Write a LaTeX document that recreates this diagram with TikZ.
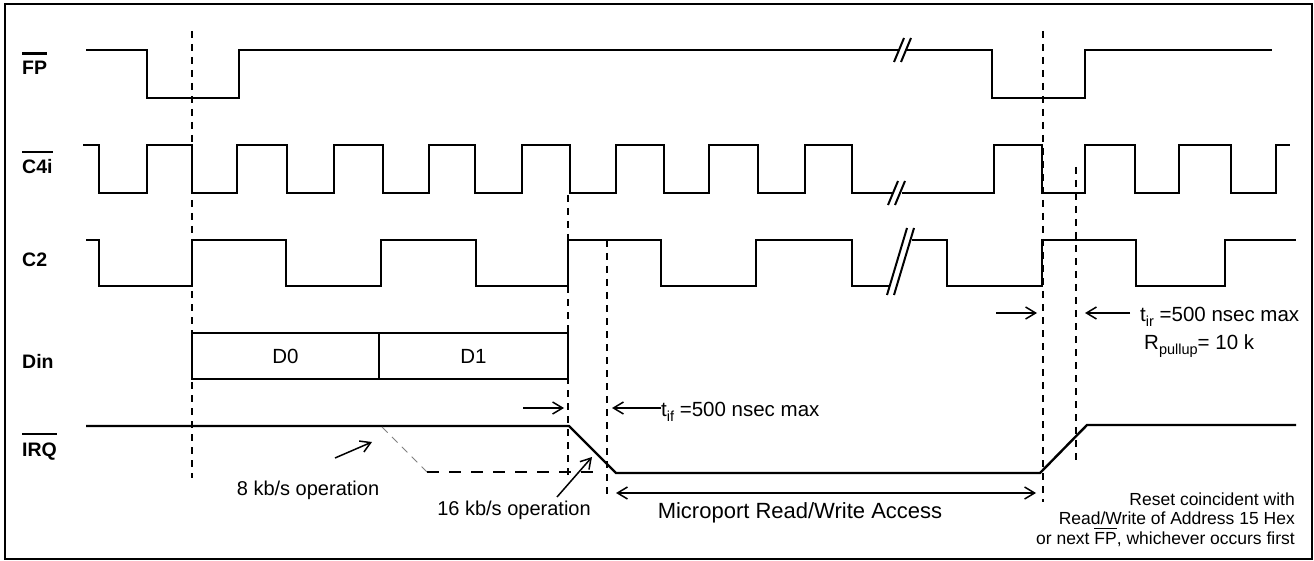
\documentclass[tikz,border=0pt]{standalone}
\usepackage{fontspec}
\setmainfont{Liberation Sans}
\usetikzlibrary{arrows.meta}
\newcommand\ovbar[3]{\setbox0\hbox{#3}\leavevmode\vbox{\hrule height #1 width \wd0 \vskip #2\box0}}
\newcommand\lowtxt[1]{\raisebox{-5pt}{\fontsize{14.5}{14.5}\selectfont #1}}
\begin{document}
\begin{tikzpicture}[x=1pt,y=-1pt,
  sig/.style={line width=2.6pt, line join=miter},
  guide/.style={line width=1.8pt, dash pattern=on 7pt off 6pt},
  brk/.style={line width=2pt},
  arr/.style={line width=1.5pt,-{Straight Barb[length=10pt,width=12pt]}},
  lbl/.style={font=\fontsize{19.5}{19.5}\selectfont\bfseries, anchor=base west, inner sep=0pt},
  txt/.style={font=\fontsize{20}{24}\selectfont, inner sep=0pt},
  small/.style={font=\fontsize{17.5}{19.5}\selectfont, inner sep=0pt, anchor=base east},
  dbox/.style={draw, line width=2.6pt, minimum height=46pt, inner sep=0pt, font=\fontsize{20.5}{24}\selectfont}]

\useasboundingbox (0,0) rectangle (1314,561);
\draw[line width=2.5pt] (5,4) rectangle (1312,559);

% signal labels
\node[lbl] (lFP)  at (22,75)  {\ovbar{2.2pt}{7pt}{FP}};
\node[lbl] (lC4i) at (22,174) {\ovbar{2.2pt}{6.5pt}{C4i}};
\node[lbl] (lC2)  at (22,267) {C2};
\node[lbl] (lDin) at (22,368) {Din};
\node[lbl] (lIRQ) at (22,456) {\ovbar{2.2pt}{7pt}{IRQ}};

% FP
\draw[sig] (86,50) -- (147,50) |- (239,98) |- (899,50);
\draw[sig] (906,50) -- (992,50) |- (1085,98) |- (1272,50);
\draw[brk] (894,62) -- (904,38);
\draw[brk] (901,62) -- (911,38);

% C4i
\draw[sig] (83,145) -- (99,145) |- (147,193) |- (192,145) |- (237,193) |- (287,145)
  |- (334,193) |- (383,145) |- (429,193) |- (475,145) |- (522,193) |- (570,145)
  |- (616,193) |- (664,145) |- (709,193) |- (758,145) |- (805,193) |- (852,145) |- (893,193);
\draw[sig] (902,193) -- (994,193) |- (1042,145) |- (1085,193) |- (1135,145) |- (1179,193)
  |- (1231,145) |- (1276,193) |- (1290,145);
\draw[brk] (888,205) -- (898,181);
\draw[brk] (895,205) -- (905,181);

% C2
\draw[sig] (86,240) -- (99,240) |- (192,286) |- (286,240) |- (381,286) |- (476,240)
  |- (568,286) |- (661,240) |- (756,286) |- (852,240) |- (890,286);
\draw[sig] (912,240) -- (947,240) |- (1042,286) |- (1136,240) |- (1225,286) |- (1296,240);
\draw[brk] (887,295) -- (907,228);
\draw[brk] (894,295) -- (914,228);

% Din
\node[dbox, minimum width=187pt] (d0) at (285.5,356) {D0};
\node[dbox, minimum width=189pt] (d1) at (473.5,356) {D1};

% IRQ
\draw[sig, line width=2.4pt] (86,426) -- (569,426) -- (616,473) -- (1040,473) -- (1087,425) -- (1296,425);
\draw[gray, line width=0.8pt, dash pattern=on 8pt off 6pt] (382,427) -- (427,472);
\draw[line width=1.3pt, dash pattern=on 12pt off 10pt] (427,472) -- (600,472);

% guide lines
\coordinate (g1t) at (192,31);   \coordinate (g1b) at (192,478);
\coordinate (g2t) at (568,195);  \coordinate (g2b) at (568,475);
\coordinate (g3t) at (607,240);  \coordinate (g3b) at (607,500);
\coordinate (g4t) at (1043,31);  \coordinate (g4b) at (1043,502);
\coordinate (g5t) at (1076,167); \coordinate (g5b) at (1076,460);
\draw[guide] (g1t) -- (g1b);
\draw[guide] (g2t) -- (g2b);
\draw[guide] (g3t) -- (g3b);
\draw[guide] (g4t) -- (g4b);
\draw[guide] (g5t) -- (g5b);

% annotations
\node[txt, anchor=base] (t8) at (308,495) {8 kb/s operation};
\coordinate (a8s) at (335,458); \coordinate (a8e) at (372,442);
\draw[arr] (a8s) -- (a8e);

\node[txt, anchor=base] (t16) at (514,515) {16 kb/s operation};
\coordinate (a16s) at (557,497); \coordinate (a16e) at (592,457);
\draw[arr] (a16s) -- (a16e);

\coordinate (tifa) at (523,408); \coordinate (tifb) at (564,408);
\draw[arr] (tifa) -- (tifb);
\node[txt, font=\fontsize{20.5}{24}\selectfont, anchor=base west] (tif) at (661,416) {t\lowtxt{if} =500 nsec max};
\coordinate (tifc) at (612,408);
\draw[arr] (tif.west |- tifc) -- (tifc);

\coordinate (mpa) at (616,493); \coordinate (mpb) at (1036,493);
\draw[arr, {Straight Barb[length=10pt,width=12pt]}-{Straight Barb[length=10pt,width=12pt]}] (mpa) -- (mpb);
\node[txt, font=\fontsize{22}{24}\selectfont, anchor=base] (mp) at (800,518) {Microport Read/Write Access};

\coordinate (tira) at (996,313); \coordinate (tirb) at (1037,313);
\draw[arr] (tira) -- (tirb);
\node[txt, font=\fontsize{20.5}{24}\selectfont, anchor=base west] (tir) at (1140,321) {t\lowtxt{ir} =500 nsec max};
\coordinate (tirc) at (1085,313);
\draw[arr] ([xshift=-10pt]tir.west |- tirc) -- (tirc);
\node[txt, font=\fontsize{20.5}{24}\selectfont, anchor=base west] (rp) at (1144,349) {R\lowtxt{pullup}= 10 k};

\node[small] (r1) at (1295,505) {Reset coincident with};
\node[small] (r2) at (1295,524) {Read/Write of Address 15 Hex};
\node[small] (r3) at (1295,544) {or next \ovbar{1.3pt}{2.5pt}{FP}, whichever occurs first};
\end{tikzpicture}
\end{document}
